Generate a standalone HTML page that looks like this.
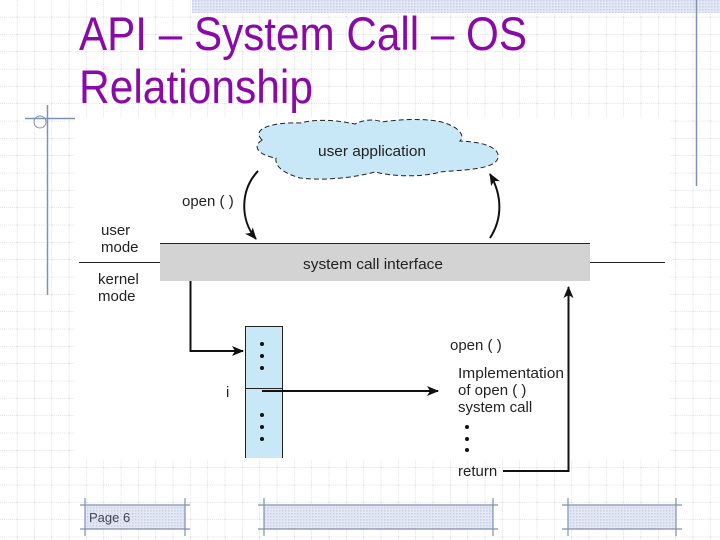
<!DOCTYPE html>
<html><head><meta charset="utf-8"><style>
body{margin:0;width:720px;height:540px;overflow:hidden;background:#fff}
svg{display:block}
text{font-family:"Liberation Sans",Arial,sans-serif;fill:#222}
</style></head><body>
<svg width="720" height="540" viewBox="0 0 720 540" xmlns="http://www.w3.org/2000/svg">
<defs>
<pattern id="g" width="17.33" height="17.33" patternUnits="userSpaceOnUse">
<path d="M17.33 0V17.33M0 17.33H17.33" stroke="#c8c8d0" stroke-width="1" stroke-dasharray="1,1" fill="none"/>
</pattern>
<pattern id="h" width="3" height="3" patternUnits="userSpaceOnUse">
<rect width="3" height="3" fill="#e4e8f4"/><rect width="1.5" height="1.5" fill="#c9d0e6"/>
</pattern>
<marker id="a" markerWidth="12" markerHeight="10" refX="11" refY="5" orient="auto" markerUnits="userSpaceOnUse">
<path d="M0,0 L12,5 L0,10 L3,5 Z" fill="#111"/>
</marker>
</defs>
<rect width="720" height="540" fill="url(#g)"/>
<rect x="192" y="0" width="528" height="13" fill="url(#h)"/>
<line x1="696.5" y1="0" x2="696.5" y2="186" stroke="#8090b0" stroke-width="1.5"/>
<line x1="25" y1="118.5" x2="75" y2="118.5" stroke="#8090b0" stroke-width="1.5"/>
<line x1="47.5" y1="105" x2="47.5" y2="295" stroke="#8090b0" stroke-width="1.5"/>
<circle cx="40" cy="122" r="6" fill="none" stroke="#8090b0"/>
<text x="79" y="50" font-size="47" textLength="448" lengthAdjust="spacingAndGlyphs" style="fill:#8a0aa8">API – System Call – OS</text>
<text x="79" y="103" font-size="47" textLength="234" lengthAdjust="spacingAndGlyphs" style="fill:#8a0aa8">Relationship</text>
<!-- diagram white area -->
<rect x="75" y="118" width="595" height="342" fill="#fff"/>
<!-- cloud -->
<path d="M262,140 C250,128 275,122 300,123 C320,118 340,121 355,124 C365,119 375,119 382,122 C400,119 430,118 445,123 C460,128 465,136 460,141 C485,142 500,148 498,158 C495,170 460,170 440,172 C420,178 390,176 375,172 C345,180 315,180 300,178 C280,172 275,165 276,158 C262,156 250,148 262,140 Z" fill="#c8e8f8" stroke="#222" stroke-dasharray="5,3" stroke-width="1"/>
<text x="372" y="156" font-size="15" text-anchor="middle" textLength="108" lengthAdjust="spacingAndGlyphs">user application</text>
<!-- arrows to/from cloud -->
<path d="M258,171 C240,190 240,220 256,239" fill="none" stroke="#111" stroke-width="2" marker-end="url(#a)"/>
<text x="182" y="206" font-size="15">open ( )</text>
<path d="M490,238 C503,218 502,195 490,174" fill="none" stroke="#111" stroke-width="2" marker-end="url(#a)"/>
<!-- system call interface -->
<rect x="160" y="243" width="430" height="38" fill="#d3d3d3"/>
<line x1="160" y1="243.5" x2="590" y2="243.5" stroke="#222"/>
<text x="373" y="269" font-size="15" text-anchor="middle" textLength="140" lengthAdjust="spacingAndGlyphs">system call interface</text>
<line x1="79" y1="262.5" x2="160" y2="262.5" stroke="#222"/>
<line x1="590" y1="262.5" x2="665" y2="262.5" stroke="#222"/>
<text x="101" y="235" font-size="15">user</text>
<text x="101" y="252" font-size="15">mode</text>
<text x="98" y="284" font-size="15">kernel</text>
<text x="98" y="301" font-size="15">mode</text>
<!-- path to table -->
<polyline points="190.5,281 190.5,351 243,351" fill="none" stroke="#111" stroke-width="2" marker-end="url(#a)"/>
<!-- table -->
<rect x="245" y="326" width="38" height="132" fill="#c8e8f8"/>
<path d="M245.5,458 V326.5 H282.5 V458" fill="none" stroke="#222"/>
<line x1="245" y1="388.5" x2="283" y2="388.5" stroke="#222"/>
<g fill="#111"><circle cx="262" cy="344" r="2"/><circle cx="262" cy="356" r="2"/><circle cx="262" cy="368" r="2"/>
<circle cx="262" cy="415" r="2"/><circle cx="262" cy="427" r="2"/><circle cx="262" cy="439" r="2"/></g>
<text x="226" y="397" font-size="15">i</text>
<line x1="262" y1="391" x2="438" y2="391" stroke="#111" stroke-width="2" marker-end="url(#a)"/>
<text x="450" y="350" font-size="15">open ( )</text>
<text x="458" y="378" font-size="15" textLength="106" lengthAdjust="spacingAndGlyphs">Implementation</text>
<text x="458" y="395" font-size="15">of open ( )</text>
<text x="458" y="412" font-size="15">system call</text>
<g fill="#111"><circle cx="467" cy="427" r="2"/><circle cx="467" cy="439" r="2"/><circle cx="467" cy="450" r="2"/></g>
<text x="458" y="476" font-size="15">return</text>
<polyline points="503,471 568.5,471 568.5,287" fill="none" stroke="#111" stroke-width="2" marker-end="url(#a)"/>
<!-- footer -->
<g stroke="#8090b0" stroke-width="1.2">
<rect x="85" y="505" width="100" height="24" fill="url(#h)" stroke="none"/>
<line x1="80" y1="505" x2="190" y2="505"/><line x1="80" y1="529" x2="190" y2="529"/>
<line x1="85" y1="498" x2="85" y2="536"/><line x1="185" y1="498" x2="185" y2="536"/>
<rect x="264" y="505" width="229" height="24" fill="url(#h)" stroke="none"/>
<line x1="258" y1="505" x2="498" y2="505"/><line x1="258" y1="529" x2="498" y2="529"/>
<line x1="264" y1="498" x2="264" y2="536"/><line x1="493" y1="498" x2="493" y2="536"/>
<rect x="568" y="505" width="108" height="24" fill="url(#h)" stroke="none"/>
<line x1="562" y1="505" x2="682" y2="505"/><line x1="562" y1="529" x2="682" y2="529"/>
<line x1="568" y1="498" x2="568" y2="536"/><line x1="676" y1="498" x2="676" y2="536"/>
</g>
<text x="89" y="522" font-size="13" style="fill:#445">Page 6</text>
</svg>
</body></html>
